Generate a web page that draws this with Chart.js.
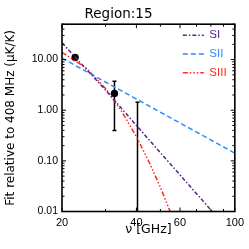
<!DOCTYPE html>
<html><head><meta charset="utf-8">
<script src="https://cdn.jsdelivr.net/npm/chart.js@4/dist/chart.umd.min.js"></script>
<style>html,body{margin:0;padding:0;background:#fff;}canvas{display:block}</style>
</head><body>
<canvas id="c" width="249" height="249"></canvas>
<script>
// ---- data ----
const chartTitle = 'Region:15';
const xLabel = 'ν [GHz]';
const yLabel = 'Fit relative to 408 MHz (μK/K)';
const seriesNames = ['SI', 'SII', 'SIII'];
const seriesColors = ['#5e2387', '#2b8cff', '#ff2a1e'];
const siFreq = [20, 30, 40, 81];
const siVal = [21.4, 2.5, 0.5, 0.01];
const siiFreq = [20, 100];
const siiVal = [10.7, 0.142];
const siiiFreq = [20, 25, 30, 35, 40, 45, 50, 55];
const siiiVal = [13.9, 6.9, 2.7, 0.92, 0.30, 0.095, 0.030, 0.0095];
const obsFreq = [22.6, 32.6, 40.4];
const obsVal = [11.0, 2.15, null];
const obsErrHi = [11.8, 3.72, 1.43];
const obsErrLo = [10.2, 0.40, 0.001];
const xTickValues = [20, 30, 40, 50, 60, 70, 80, 90, 100];
const xTickLabels = [20, 40, 60, 100];
const yTickDecades = [0.01, 0.1, 1, 10];
const xRange = [20, 100];
const yRange = [0.01, 50];

const FONT = 'DejaVu Sans';
const TICKFONT = 'Liberation Sans';
const dashes = [[4, 2, 1.5, 2], [5, 3], [5, 2, 1.5, 2, 1.5, 2, 1.5, 2]];

function pts(xs, ys) { return xs.map((x, i) => ({ x: x, y: ys[i] })); }

const yTickValues = [];
yTickDecades.forEach(d => { for (let k = 1; k <= 9; k++) { const v = Number((k * d).toPrecision(3)); if (v <= yRange[1]) yTickValues.push(v); } });

const errorBars = {
  id: 'errorBars',
  beforeDatasetsDraw(chart) {
    const { ctx, chartArea: a, scales: { x, y } } = chart;
    ctx.save();
    ctx.strokeStyle = '#000'; ctx.lineWidth = 1.5;
    obsFreq.forEach((f, i) => {
      const px = x.getPixelForValue(f);
      const top = y.getPixelForValue(obsErrHi[i]);
      let bot = y.getPixelForValue(obsErrLo[i]);
      const botCap = bot <= a.bottom;
      if (bot > a.bottom) bot = a.bottom;
      ctx.beginPath(); ctx.moveTo(px, top); ctx.lineTo(px, bot);
      ctx.moveTo(px - 2, top); ctx.lineTo(px + 2, top);
      if (botCap) { ctx.moveTo(px - 2, bot); ctx.lineTo(px + 2, bot); }
      ctx.stroke();
    });
    ctx.restore();
  }
};

const frame = {
  id: 'frame',
  afterDraw(chart) {
    const { ctx, chartArea: a, scales: { x, y } } = chart;
    ctx.save();
    ctx.strokeStyle = '#000';
    ctx.lineWidth = 1;
    x.ticks.forEach(t => {
      const px = x.getPixelForValue(t.value);
      const len = xTickLabels.includes(t.value) ? 4 : 2.5;
      ctx.beginPath();
      ctx.moveTo(px, a.bottom); ctx.lineTo(px, a.bottom - len);
      ctx.moveTo(px, a.top); ctx.lineTo(px, a.top + len);
      ctx.stroke();
    });
    y.ticks.forEach(t => {
      const py = y.getPixelForValue(t.value);
      const len = yTickDecades.includes(t.value) ? 4 : 2.5;
      ctx.beginPath();
      ctx.moveTo(a.left, py); ctx.lineTo(a.left + len, py);
      ctx.moveTo(a.right, py); ctx.lineTo(a.right - len, py);
      ctx.stroke();
    });
    ctx.lineWidth = 1.6;
    ctx.strokeRect(a.left, a.top, a.right - a.left, a.bottom - a.top);
    // legend
    ctx.font = '11.5px "' + TICKFONT + '"';
    ctx.textBaseline = 'middle';
    for (let i = 0; i < 3; i++) {
      const ds = chart.data.datasets[i];
      const ly = a.top + 11 + i * 18.8;
      ctx.strokeStyle = ds.borderColor; ctx.lineWidth = 1.5;
      ctx.setLineDash(ds.borderDash);
      ctx.beginPath(); ctx.moveTo(a.right - 52, ly); ctx.lineTo(a.right - 31, ly); ctx.stroke();
      ctx.setLineDash([]);
      ctx.fillStyle = ds.borderColor;
      ctx.fillText(ds.label, a.right - 25.5, ly);
    }
    ctx.restore();
  }
};

new Chart(document.getElementById('c'), {
  type: 'line',
  data: {
    datasets: [
      { label: seriesNames[0], data: pts(siFreq, siVal), borderColor: seriesColors[0], borderDash: dashes[0], borderWidth: 1.5, pointRadius: 0, fill: false },
      { label: seriesNames[1], data: pts(siiFreq, siiVal), borderColor: seriesColors[1], borderDash: dashes[1], borderWidth: 1.5, pointRadius: 0, fill: false },
      { label: seriesNames[2], data: pts(siiiFreq, siiiVal), borderColor: seriesColors[2], borderDash: dashes[2], borderWidth: 1.5, pointRadius: 0, fill: false },
      { type: 'scatter', label: 'data', data: pts(obsFreq, obsVal), showLine: false, pointRadius: 3.7, backgroundColor: '#000', borderColor: '#000', borderWidth: 0 }
    ]
  },
  options: {
    responsive: false, animation: false, devicePixelRatio: 1,
    layout: { padding: { left: 0, right: 12, top: 0, bottom: 0 } },
    plugins: {
      legend: { display: false }, tooltip: { enabled: false },
      title: { display: true, text: chartTitle, color: '#000', font: { family: FONT, size: 13.5, weight: 'normal' }, padding: { top: 6, bottom: 2 } }
    },
    scales: {
      x: {
        type: 'logarithmic', min: xRange[0], max: xRange[1],
        afterBuildTicks: s => { s.ticks = xTickValues.map(v => ({ value: v })); },
        afterFit: s => { s.height = 37.5; },
        ticks: { autoSkip: false, maxRotation: 0, color: '#000', padding: 5, font: { family: TICKFONT, size: 11 },
          callback: v => xTickLabels.includes(v) ? String(v) : '' },
        grid: { display: false, drawTicks: false }, border: { display: false },
        title: { display: true, text: xLabel, color: '#000', font: { family: FONT, size: 12.5 }, padding: { top: 0, bottom: 12 } }
      },
      y: {
        type: 'logarithmic', min: yRange[0], max: yRange[1],
        afterBuildTicks: s => { s.ticks = yTickValues.map(v => ({ value: v })); },
        afterFit: s => { s.width = 62; },
        ticks: { autoSkip: false, color: '#000', padding: 4, font: { family: TICKFONT, size: 10.5 },
          callback: v => yTickDecades.includes(v) ? v.toFixed(2) : '' },
        grid: { display: false, drawTicks: false }, border: { display: false },
        title: { display: true, text: yLabel, color: '#000', font: { family: FONT, size: 12 }, padding: { top: 4, bottom: 0 } }
      }
    }
  },
  plugins: [errorBars, frame]
});
</script>
</body></html>
